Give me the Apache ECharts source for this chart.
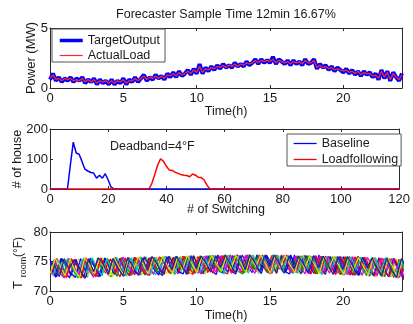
<!DOCTYPE html>
<html><head><meta charset="utf-8">
<script src="https://cdn.jsdelivr.net/npm/echarts@6/dist/echarts.min.js"></script>
<style>html,body{margin:0;padding:0;background:#fff}#c{width:413px;height:324px}</style>
</head><body><div id="c"></div>
<script>
// ---------- data ----------
const chartTitle = 'Forecaster Sample Time 12min 16.67%';
const powerStep = 0.2; // hours (12 min)
const targetOutput = [
0.7,1.2,0.6,0.9,0.5,0.8,0.6,0.9,0.5,0.8,0.6,
0.9,0.4,0.7,0.5,0.8,0.3,0.7,0.4,0.6,0.3,
0.7,0.3,0.6,0.4,0.8,0.3,0.7,0.5,0.9,0.5,
0.8,1.1,0.6,0.9,0.7,1.1,0.8,1.0,0.7,1.2,
0.9,1.3,0.9,1.4,1.0,1.2,1.5,1.1,1.6,1.2,
2.0,1.2,1.7,1.4,1.8,1.5,1.9,1.6,2.0,1.7,
1.9,1.7,2.1,1.8,2.0,1.8,2.2,1.9,2.1,2.4,
2.0,2.4,2.1,2.3,2.1,2.6,2.0,2.4,2.2,2.0,
2.3,1.9,2.3,2.0,2.2,1.9,2.4,2.0,2.1,2.4,
1.6,2.0,1.7,1.9,1.5,1.8,1.4,1.7,1.5,1.3,
1.6,1.2,1.5,1.1,1.4,1.0,1.4,1.1,1.3,0.9,
1.2,0.7,1.5,0.8,1.4,0.6,1.3,0.9,0.6,1.2];
const actualLoad = [
0.8,1.1,0.7,0.8,0.6,0.8,0.7,0.8,0.6,0.7,0.6,
0.8,0.5,0.7,0.5,0.7,0.4,0.6,0.5,0.6,0.4,
0.6,0.4,0.6,0.5,0.7,0.4,0.6,0.6,0.8,0.6,
0.8,1.0,0.7,0.9,0.8,1.0,0.8,1.0,0.8,1.1,
1.0,1.2,1.0,1.3,1.1,1.2,1.4,1.2,1.5,1.3,
1.8,1.3,1.6,1.5,1.7,1.6,1.8,1.7,1.9,1.7,
1.9,1.8,2.0,1.8,2.0,1.9,2.1,2.0,2.1,2.3,
2.1,2.3,2.2,2.3,2.2,2.4,2.1,2.3,2.2,2.1,
2.2,2.0,2.2,2.1,2.2,2.0,2.3,2.1,2.1,2.3,
1.7,1.9,1.7,1.8,1.6,1.7,1.5,1.6,1.5,1.4,
1.5,1.3,1.4,1.2,1.4,1.1,1.3,1.2,1.2,1.0,
1.1,0.8,1.4,0.9,1.3,0.7,1.2,0.9,0.7,1.1];

// [# of switching, # of house]
const baseline = [[0,0],[6,0],[7,80],[8,156],[9,120],[10,116],[11,92],[12,66],[13,60],[14,55],[15,53],[16,36],[17,46],[18,36],[19,51],[20,30],[21,6],[22,0],[120,0]];
const loadfollowing = [[0,0],[34,0],[35,18],[36,48],[37,80],[38,101],[39,92],[40,76],[41,63],[42,62],[43,56],[44,52],[45,48],[46,46],[47,45],[48,41],[49,50],[50,46],[51,39],[52,38],[53,30],[54,12],[55,0],[120,0]];

const tempStep = 1/3; // hours
const temp01 = [75.5,72.6,74.9,73.4,72.2,75.3,72.8,75.6,74.2,73.0,72.4,75.5,73.1,75.4,73.9,72.5,75.6,72.9,75.2,74.0,72.7,75.7,73.3,72.6,75.6,74.4,73.2,75.8,72.8,75.7,74.1,72.9,75.9,73.5,72.8,75.8,74.6,73.4,72.9,76.0,73.2,75.9,74.3,73.0,76.1,73.6,76.0,74.5,73.3,72.9,76.1,73.8,76.0,74.2,73.0,76.1,72.9,75.9,74.4,73.1,75.8,73.4,72.7,75.9,74.0,72.8,75.7,73.5,72.5,75.6,74.1,72.3,75.4];
const temp02 = [74.2,72.5,75.5,73.7,75.2,72.9,72.3,75.4,74.0,72.6,75.6,73.3,72.4,75.5,74.3,75.3,72.8,75.6,73.6,72.7,75.7,74.1,72.9,73.5,75.8,72.8,75.6,74.4,73.0,75.9,73.7,72.9,75.8,74.2,76.0,73.1,75.9,74.6,73.3,72.9,76.1,73.9,76.0,74.4,73.1,76.1,73.5,75.9,74.7,73.2,76.0,73.0,75.9,74.1,72.9,75.9,74.5,73.3,75.8,72.8,75.8,74.0,72.7,75.7,73.6,72.6,75.6,74.2,72.4,75.5,73.4,72.3,75.3];
const temp03 = [72.8,75.4,74.0,72.3,75.5,73.2,72.2,75.3,74.4,72.5,75.6,73.0,75.4,73.8,72.4,75.6,74.5,72.7,75.7,73.4,72.6,75.6,74.0,72.8,75.8,73.1,75.7,74.3,72.9,75.9,73.7,75.8,74.6,73.0,76.0,73.3,72.9,76.0,74.2,73.1,76.1,73.8,76.1,74.6,73.2,76.0,73.0,76.1,74.3,73.1,75.9,73.7,76.0,74.5,72.9,75.9,73.2,75.8,74.1,72.8,75.8,73.5,72.7,75.7,74.3,72.5,75.6,73.0,75.5,73.9,72.3,75.4,71.9];
const temp04 = [75.2,73.6,72.4,75.5,74.1,72.9,75.3,72.3,75.6,73.8,72.6,75.5,74.2,72.5,75.7,73.1,75.5,74.0,72.7,75.8,73.4,72.8,75.7,74.5,73.0,75.9,72.9,75.8,74.2,73.1,75.9,73.6,76.0,74.7,73.3,72.9,76.1,74.0,76.0,73.4,76.1,74.6,73.0,76.0,73.7,76.1,74.3,73.2,76.0,72.9,75.9,74.4,73.1,75.9,73.6,72.8,75.8,74.2,72.9,75.8,73.3,75.7,74.0,72.7,75.6,73.2,72.5,75.6,74.3,72.4,75.4,73.7,72.2];
const temp05 = [73.4,72.3,75.5,74.3,72.7,75.4,73.6,72.1,75.5,74.0,72.4,75.6,73.2,75.5,74.1,72.5,75.6,73.7,72.6,75.7,74.4,72.8,75.6,73.3,75.8,74.0,72.9,75.9,73.5,72.8,75.8,74.5,73.1,76.0,73.2,76.0,74.2,73.0,76.1,73.9,76.1,74.7,73.3,76.0,73.5,72.9,76.1,74.4,76.0,73.1,75.9,74.2,72.9,76.0,73.8,75.9,74.6,73.0,75.8,73.4,72.7,75.8,74.1,72.6,75.7,73.6,75.6,74.3,72.5,75.5,73.2,72.2,75.4];
const temp06 = [74.8,72.9,75.4,73.3,72.2,75.5,74.2,72.6,75.3,73.5,75.6,74.0,72.4,75.5,73.0,72.5,75.7,74.3,72.8,75.6,73.7,75.8,74.4,72.9,75.7,73.2,75.9,74.1,73.0,75.8,73.8,72.9,76.0,74.5,73.2,76.1,73.6,76.0,74.6,73.1,76.2,74.0,73.0,76.1,74.5,73.3,76.0,73.4,76.1,74.2,73.0,76.0,73.9,75.9,74.5,72.9,75.9,73.3,75.8,74.0,72.8,75.8,74.4,72.6,75.6,73.5,72.4,75.5,74.0,72.5,75.4,73.3,72.3];
const temp07 = [75.0,73.3,75.5,74.4,72.6,75.4,73.0,72.3,75.6,74.2,72.7,75.5,73.5,75.7,74.0,72.6,75.6,73.2,72.8,75.8,74.3,75.7,73.6,72.9,75.9,74.5,73.1,75.8,73.3,76.0,74.1,73.0,76.0,73.7,76.1,74.6,73.2,76.0,73.5,76.1,74.3,73.1,76.1,73.9,76.0,74.7,73.0,76.0,73.4,75.9,74.4,72.9,76.0,73.8,75.9,74.1,72.8,75.8,73.6,75.8,74.3,72.7,75.7,73.1,75.6,74.0,72.5,75.6,73.5,72.4,75.5,74.1,72.2];
const temp08 = [73.8,72.4,75.4,74.5,73.0,72.3,75.5,73.4,75.3,73.9,72.5,75.6,74.2,72.8,75.5,73.5,72.6,75.7,74.6,73.1,75.6,73.7,72.7,75.8,74.0,75.7,73.3,72.9,75.9,74.5,73.0,75.8,73.8,76.0,74.3,73.1,76.0,73.6,76.1,74.8,73.3,76.0,74.0,73.0,76.1,73.7,76.0,74.6,73.2,76.1,73.5,75.9,74.3,72.9,76.0,73.9,75.9,74.7,73.0,75.8,73.6,75.8,74.2,72.7,75.7,73.3,72.6,75.6,74.0,72.4,75.5,73.8,72.1];
const temp09 = [75.3,74.0,72.7,75.5,73.5,72.2,75.4,74.3,72.6,75.6,73.3,75.5,74.0,72.5,75.7,73.8,72.7,75.6,74.4,72.8,75.8,73.2,75.7,74.1,72.9,75.9,73.6,75.8,74.6,73.0,76.0,73.4,76.0,74.4,73.2,76.1,73.9,76.0,74.7,73.1,76.1,73.6,76.1,74.3,73.0,76.0,74.0,76.0,74.8,73.2,75.9,73.5,76.0,74.2,72.9,75.9,73.8,75.8,74.5,72.8,75.8,73.4,75.7,74.1,72.6,75.6,73.7,72.5,75.6,74.2,72.3,75.4,73.6];
const temp10 = [74.0,75.5,73.2,72.3,75.4,74.4,72.7,75.6,73.7,72.4,75.5,74.1,75.4,72.9,75.6,73.5,72.6,75.7,74.3,72.8,75.6,73.9,75.8,74.6,73.0,75.7,73.4,75.9,74.0,72.9,75.8,74.5,73.2,76.0,73.7,76.0,74.2,73.1,76.1,74.7,73.3,76.0,73.8,76.1,74.5,73.0,76.0,73.6,76.1,74.3,73.1,75.9,74.6,72.9,76.0,73.5,75.9,74.1,72.8,75.8,74.4,72.7,75.8,73.6,75.7,74.0,72.6,75.6,73.3,72.5,75.5,74.2,72.4];
const temp11 = [72.5,75.3,73.8,75.5,74.3,72.4,75.4,73.1,75.6,74.0,72.6,75.5,73.6,75.7,74.4,72.7,75.6,73.3,75.8,74.1,72.8,75.7,73.8,75.9,74.6,73.0,75.8,73.4,76.0,74.2,73.1,75.9,73.9,76.0,74.7,73.2,76.1,73.5,76.0,74.4,73.0,76.1,73.8,76.0,74.6,73.3,76.1,73.7,75.9,74.3,73.0,76.0,73.6,75.9,74.5,72.9,75.9,73.9,75.8,74.2,72.8,75.8,73.5,75.7,74.4,72.6,75.6,73.2,75.6,74.0,72.4,75.4,73.8];
const temp12 = [75.4,73.1,72.2,75.5,74.0,72.8,75.3,73.6,72.3,75.6,74.2,72.7,75.5,73.4,75.7,74.5,72.9,75.6,73.8,72.8,75.8,74.3,73.0,75.7,73.5,75.9,74.7,73.1,75.8,73.9,72.9,76.0,74.4,73.2,76.0,73.6,76.1,74.8,73.3,76.0,74.1,73.0,76.1,74.6,73.2,76.0,73.7,76.1,74.5,73.1,76.0,74.0,72.9,75.9,74.6,73.0,75.9,73.6,75.8,74.3,72.8,75.8,73.9,72.7,75.7,74.4,72.6,75.6,73.5,75.5,74.1,72.4,75.4];
const temp13 = [73.0,75.5,74.2,72.6,75.4,73.5,72.3,75.6,74.4,72.9,75.5,73.8,72.5,75.7,74.1,72.7,75.6,73.6,75.8,74.5,72.9,75.7,73.9,75.9,74.2,73.0,75.8,73.5,76.0,74.6,73.1,75.9,74.0,76.0,74.5,73.3,76.1,73.8,76.0,74.7,73.2,76.1,74.1,76.1,74.6,73.0,76.0,73.9,76.1,74.4,73.1,76.0,73.7,75.9,74.6,72.9,75.9,74.0,75.8,74.3,72.8,75.8,73.6,75.7,74.2,72.7,75.6,73.9,72.5,75.6,74.1,72.3,75.4];
const temp14 = [74.6,72.4,75.5,73.7,75.3,74.1,72.3,75.5,73.3,75.6,74.5,72.8,75.5,73.9,72.6,75.7,74.2,72.8,75.6,73.5,75.8,74.6,73.0,75.8,73.7,75.9,74.3,72.9,76.0,73.9,75.9,74.7,73.2,76.0,74.0,76.1,74.5,73.1,76.0,73.6,76.1,74.8,73.3,76.0,74.2,76.1,74.6,73.0,76.0,73.8,75.9,74.5,73.1,76.0,74.0,75.9,74.4,72.8,75.8,73.7,75.8,74.3,72.7,75.7,73.9,75.6,74.0,72.6,75.6,73.4,72.3,75.5,73.9];

// ---------- chart ----------
const font = '"Liberation Sans", Arial, sans-serif';
const axisCol = '#2a2a2a';
const txtCol = '#1a1a1a';

function pairs(vals, step, offset) { return vals.map((v, i) => [offset + i * step, v]); }

function xAxes(gi, max, interval, showMax) {
  const base = {type:'value', gridIndex:gi, min:0, max:max, interval:interval,
    axisLine:{show:true, onZero:false, lineStyle:{color:axisCol, width:1}},
    axisTick:{show:true, inside:true, length:3, lineStyle:{color:axisCol}},
    splitLine:{show:false}};
  return [
    Object.assign({}, base, {position:'bottom', axisLabel:{color:txtCol, fontSize:13, fontFamily:font, margin:4, showMaxLabel:showMax}}),
    Object.assign({}, base, {position:'top', axisLabel:{show:false}})
  ];
}
function yAxes(gi, min, max, interval) {
  const base = {type:'value', gridIndex:gi, min:min, max:max, interval:interval,
    axisLine:{show:true, onZero:false, lineStyle:{color:axisCol, width:1}},
    axisTick:{show:true, inside:true, length:3, lineStyle:{color:axisCol}},
    splitLine:{show:false}};
  return [
    Object.assign({}, base, {position:'left', axisLabel:{color:txtCol, fontSize:13, fontFamily:font, margin:2}}),
    Object.assign({}, base, {position:'right', axisLabel:{show:false}})
  ];
}

const tempColors = ['#0000ff','#00a000','#ff0000','#00c8c8','#e000e0','#e0e000','#2020a0'];
const tempSets = [temp01, temp02, temp03, temp04, temp05, temp06, temp07, temp08, temp09, temp10, temp11, temp12, temp13, temp14];
const tempOffsets = [0, 1/6, 1/9, 2/9, 1/18, 5/18, 1/6 - 1/18, 1/12, 1/4, 5/36, 7/36, 11/36, 1/36, 0.3];
const tempData = tempSets.map((vals, k) => pairs(vals, tempStep, tempOffsets[k]));

const series = [
  {name:'TargetOutput', type:'line', xAxisIndex:0, yAxisIndex:0, data:pairs(targetOutput, powerStep, 0),
   showSymbol:false, symbol:'none', lineStyle:{color:'#0000ff', width:4}, itemStyle:{color:'#0000ff'}},
  {name:'ActualLoad', type:'line', xAxisIndex:0, yAxisIndex:0, data:pairs(actualLoad, powerStep, 0),
   showSymbol:false, symbol:'none', lineStyle:{color:'#ff2828', width:1.3}, itemStyle:{color:'#ff2828'}},
  {name:'Baseline', type:'line', xAxisIndex:2, yAxisIndex:2, data:baseline,
   showSymbol:false, symbol:'none', lineStyle:{color:'#0000ff', width:1.5}, itemStyle:{color:'#0000ff'}},
  {name:'Loadfollowing', type:'line', xAxisIndex:2, yAxisIndex:2, data:loadfollowing,
   showSymbol:false, symbol:'none', lineStyle:{color:'#ff0000', width:1.5}, itemStyle:{color:'#ff0000'}}
];
tempData.forEach((d, k) => series.push({type:'line', xAxisIndex:4, yAxisIndex:4, data:d,
  showSymbol:false, symbol:'none', lineStyle:{color:tempColors[k % tempColors.length], width:1.2}, silent:true}));

function gtext(text, x, y, size, rot, align) {
  return {type:'text', x:x, y:y, rotation:rot || 0,
    style:{text:text, fill:txtCol, font:size + 'px ' + font, textAlign:align || 'center', textVerticalAlign:'middle'}};
}

const legendBase = {orient:'vertical', itemWidth:23, itemHeight:14, selectedMode:false,
  borderColor:'#555', borderWidth:1, backgroundColor:'#fff', borderRadius:0,
  itemStyle:{opacity:0},
  textStyle:{fontSize:12.5, fontFamily:font, color:txtCol}};

const option = {
  animation:false,
  backgroundColor:'#fff',
  grid:[
    {left:50, width:352, top:28, height:60},
    {left:50, width:352, top:129, height:60},
    {left:50, width:352, top:232, height:59}
  ],
  xAxis:[].concat(xAxes(0, 24, 5, false), xAxes(1, 120, 20, true), xAxes(2, 24, 5, false)),
  yAxis:[].concat(yAxes(0, 0, 5, 5), yAxes(1, 0, 200, 100), yAxes(2, 70, 80, 5)),
  legend:[
    Object.assign({}, legendBase, {data:[{name:'TargetOutput', lineStyle:{width:3.5}}, {name:'ActualLoad', lineStyle:{width:1.2}}],
      left:52, top:29, itemGap:2, padding:[5,5,0,6]}),
    Object.assign({}, legendBase, {data:[{name:'Baseline', lineStyle:{width:1.3}}, {name:'Loadfollowing', lineStyle:{width:1.3}}],
      left:287, top:134, itemGap:3, padding:[3,3,0,6]})
  ],
  series:series,
  graphic:[
    gtext(chartTitle, 226, 15, 12.5),
    gtext('Time(h)', 226, 112, 12.5),
    gtext('# of Switching', 226, 210, 12.5),
    gtext('Time(h)', 226, 316, 12.5),
    gtext('Power (MW)', 31, 58, 13, Math.PI/2),
    gtext('# of house', 18, 159, 12.5, Math.PI/2),
    gtext('T', 18, 285, 13, Math.PI/2),
    gtext('room', 24, 267, 9, Math.PI/2),
    gtext('(°F)', 19, 247, 12, Math.PI/2),
    gtext('Deadband=4°F', 110, 147, 12.5, 0, 'left')
  ]
};
const chart = echarts.init(document.getElementById('c'), null, {renderer:'canvas'});
chart.setOption(option);
</script></body></html>
